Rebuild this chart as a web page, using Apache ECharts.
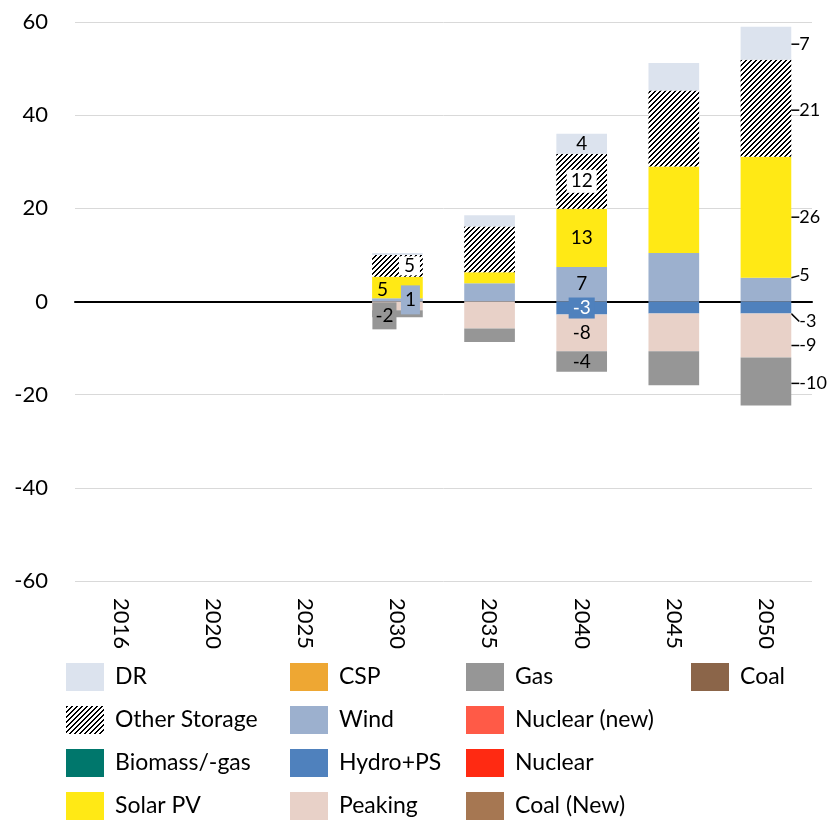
<!DOCTYPE html>
<html>
<head>
<meta charset="utf-8">
<script src="https://cdn.jsdelivr.net/npm/echarts@6/dist/echarts.min.js"></script>
<style>
html,body{margin:0;padding:0;background:#fff;}
#chart{width:827px;height:821px;}
</style>
</head>
<body>
<div id="chart"></div>
<script>
// ---- data ----
const years = ['2016','2020','2025','2030','2035','2040','2045','2050'];
const yTicks = [-60,-40,-20,0,20,40,60];
const hydro   = [0,0,0,0,0,-2.8,-2.6,-2.6];
const wind    = [0,0,0,0.7,3.9,7.4,10.4,5.1];
const solar   = [0,0,0,4.6,2.4,12.5,18.6,26.0];
const storage = [0,0,0,4.7,9.8,11.8,16.3,20.8];
const dr      = [0,0,0,0.4,2.4,4.3,5.9,7.1];
const peaking = [0,0,0,-1.9,-5.8,-7.9,-8.1,-9.4];
const gas     = [0,0,0,-1.5,-2.9,-4.4,-7.3,-10.3];
const csp     = [0,0,0,0,0,0,0,0];
const biomass = [0,0,0,0,0,0,0,0];
const nuclearNew = [0,0,0,0,0,0,0,0];
const nuclear = [0,0,0,0,0,0,0,0];
const coal    = [0,0,0,0,0,0,0,0];
const coalNew = [0,0,0,0,0,0,0,0];

// ---- styles ----
function hatch(){
  const s = 5, c = document.createElement('canvas');
  c.width = s; c.height = s;
  const g = c.getContext('2d');
  const img = g.createImageData(s, s);
  for (let y = 0; y < s; y++) for (let x = 0; x < s; x++) {
    const k = (x + y) % 5;
    const black = (k === 0) || (k === 1);
    const i = (y * s + x) * 4, v = black ? 0 : 255;
    img.data[i] = v; img.data[i+1] = v; img.data[i+2] = v; img.data[i+3] = 255;
  }
  g.putImageData(img, 0, 0);
  return {image: c, repeat: 'repeat'};
}
const FONT = 'Lato';
const colors = {
  'DR':'#DCE3EE','Other Storage':hatch(),'Biomass/-gas':'#00776C','Solar PV':'#FFE915',
  'CSP':'#EEA733','Wind':'#9CB0CE','Hydro+PS':'#4F81BD','Peaking':'#E8D1C8',
  'Gas':'#969696','Nuclear (new)':'#FF5A47','Nuclear':'#FF2A12','Coal (New)':'#A67752','Coal':'#8B6549'
};
const seriesDefs = [
  ['Hydro+PS', hydro], ['Wind', wind], ['Solar PV', solar], ['Other Storage', storage], ['DR', dr],
  ['Peaking', peaking], ['Gas', gas],
  ['CSP', csp], ['Biomass/-gas', biomass], ['Nuclear (new)', nuclearNew], ['Nuclear', nuclear],
  ['Coal', coal], ['Coal (New)', coalNew]
];
// label styling per series, by category index
const lab = {
  'Hydro+PS': {5:{bg:'#4F81BD', color:'#fff', pad:[1,4]}, 7:{side:true, dy:14}},
  'Wind': {3:{off:[13,0], bg:'#9CB0CE', pad:[5,4]}, 5:{}, 7:{side:true, dy:-14}},
  'Solar PV': {3:{off:[-15,2]}, 5:{}, 7:{side:true, dy:0}},
  'Other Storage': {3:{off:[12,0], bg:'#fff', pad:[0,5]}, 5:{bg:'#fff', pad:[2,4]}, 7:{side:true, dy:2}},
  'DR': {5:{}, 7:{side:true, dy:1}},
  'Peaking': {5:{}, 7:{side:true, dy:10}},
  'Gas': {3:{off:[-13,2], bg:'#969696', pad:[4,3]}, 5:{}, 7:{side:true, dy:2}}
};
function fmt(v){ return (v<0?'-':'') + Math.round(Math.abs(v)); }

const series = seriesDefs.map(([name, arr]) => {
  const spec = lab[name] || {};
  return {
    name, type:'bar', stack:'total', barCategoryGap:'45%',
    itemStyle:{color: colors[name]},
    labelLine:{show:false, lineStyle:{color:'#000', width:1.5}},
    labelLayout: (p) => {
      const s = spec[p.dataIndex];
      if (!s) return null;
      if (s.side) return {dx: 8, dy: s.dy};
      if (s.off) return {dx: s.off[0], dy: s.off[1]};
      return null;
    },
    data: arr.map((v,i) => {
      const s = spec[i];
      if (!s) return {value:v, label:{show:false}};
      if (s.side) return {value:v,
        labelLine:{show:true, lineStyle:{color:'#000', width:1.5}},
        label:{show:true, position:'right', distance:0,
        formatter: fmt(v), color:'#000', fontSize:18, fontFamily:FONT}};
      return {value:v, labelLine:{show:false},
        label:{show:true, position:'inside',
        formatter: fmt(v), color:s.color||'#000', fontSize:19, fontFamily:FONT,
        backgroundColor:s.bg||'transparent', padding:s.pad||0}};
    })
  };
});
const legendCols = [
  ['DR','Other Storage','Biomass/-gas','Solar PV'],
  ['CSP','Wind','Hydro+PS','Peaking'],
  ['Gas','Nuclear (new)','Nuclear','Coal (New)'],
  ['Coal']
];
const legendLeft = [66, 290, 466, 691];
const legends = legendCols.map((d,i) => ({
  data:d, orient:'vertical', left:legendLeft[i], top:663, padding:0,
  itemWidth:38, itemHeight:28, itemGap:15, icon:'rect', selectedMode:false,
  textStyle:{fontSize:23, fontFamily:FONT, color:'#000', padding:[0,0,0,6]}
}));

const chart = echarts.init(document.getElementById('chart'), null, {renderer:'canvas'});
chart.setOption({
  animation:false,
  backgroundColor:'#fff',
  grid:{left:75, right:15, top:22, bottom:240},
  legend: legends,
  xAxis:[
    {type:'category', data:years, position:'bottom',
     axisLine:{show:false, onZero:false}, axisTick:{show:false},
     axisLabel:{rotate:-90, margin:17, fontSize:22, fontFamily:FONT, color:'#000'}},
    {type:'category', data:years, position:'bottom',
     axisLine:{show:true, onZero:true, lineStyle:{color:'#000', width:2}},
     axisTick:{show:false}, axisLabel:{show:false}}
  ],
  yAxis:{type:'value', min:yTicks[0], max:yTicks[yTicks.length-1], interval:20,
    axisLine:{show:false}, axisTick:{show:false},
    axisLabel:{margin:27, fontSize:22, fontFamily:FONT, color:'#000'},
    splitLine:{lineStyle:{color:'#d9d9d9', width:1}}},
  series: series
});
</script>
</body>
</html>
